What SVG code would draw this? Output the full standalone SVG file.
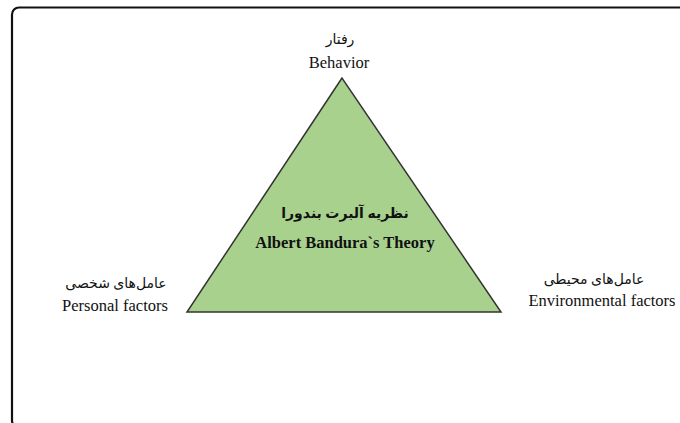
<svg xmlns="http://www.w3.org/2000/svg" width="680" height="423" viewBox="0 0 680 423">
  <style>
    .lbl { font-family: "Liberation Serif", "Times New Roman", "DejaVu Serif", serif; font-size: 16.5px; fill: #111; text-anchor: middle; }
    .fa { font-family: "Liberation Serif", "DejaVu Sans", "Noto Sans", serif; font-size: 14px; fill: #111; text-anchor: middle; }
    .bold { font-weight: bold; }
  </style>
  <rect width="680" height="423" fill="#ffffff"/>
  <!-- outer frame -->
  <rect x="12" y="7.5" width="690" height="420" rx="7" fill="none" stroke="#111" stroke-width="2.2"/>

  <g id="theory">
    <polygon points="342,78 187,312 501,312" fill="#a9d18e" stroke="#333" stroke-width="1.5" stroke-linejoin="miter"/>
    <text class="fa bold" x="345" y="218" font-size="15.5" direction="rtl">نظریه آلبرت بندورا</text>
    <text class="lbl bold" x="345" y="248" font-size="17">Albert Bandura`s Theory</text>
  </g>

  <g id="behavior">
    <text class="fa" x="340" y="44" direction="rtl">رفتار</text>
    <text class="lbl" x="339" y="68">Behavior</text>
  </g>

  <g id="personal">
    <text class="fa" x="116" y="288" direction="rtl">عامل‌های شخصی</text>
    <text class="lbl" x="115" y="311">Personal factors</text>
  </g>

  <g id="environmental">
    <text class="fa" x="594" y="284" direction="rtl">عامل‌های محیطی</text>
    <text class="lbl" x="602" y="306">Environmental factors</text>
  </g>

  <g id="connectors"></g>
</svg>
